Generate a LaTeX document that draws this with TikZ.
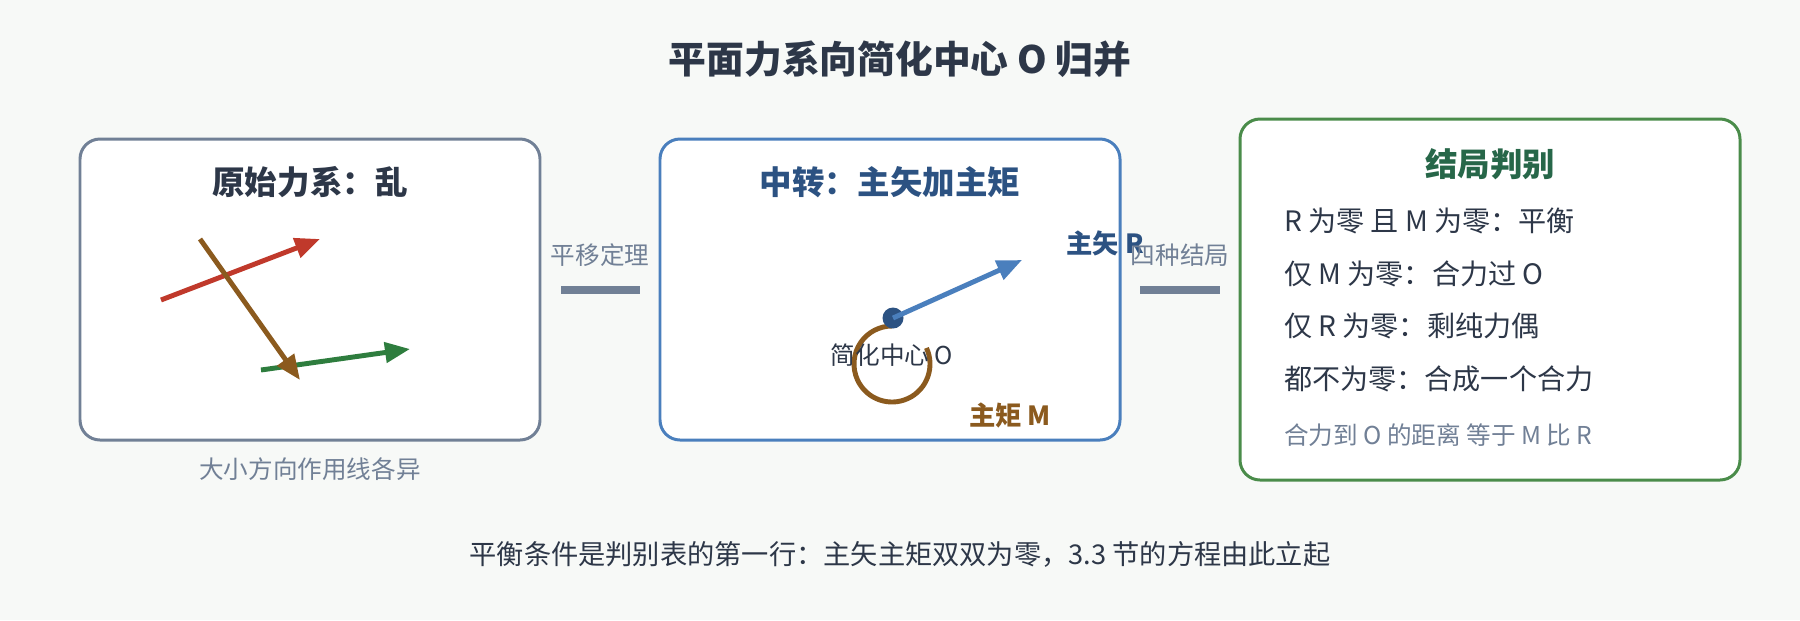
\documentclass[tikz,border=0pt]{standalone}
\usepackage{fontspec}
\setmainfont{Noto Sans CJK SC}
\usetikzlibrary{arrows.meta,positioning}
\definecolor{ink}{HTML}{2D3748}
\definecolor{slate}{HTML}{718096}
\definecolor{bluebd}{HTML}{4A7FBD}
\definecolor{bluedk}{HTML}{2C5282}
\definecolor{greenbd}{HTML}{4A8C4A}
\definecolor{greendk}{HTML}{276749}
\definecolor{redf}{HTML}{C0392B}
\definecolor{brownf}{HTML}{8B5A1E}
\definecolor{greenf}{HTML}{2E7D3E}
\definecolor{bg}{HTML}{F7F9F7}
\tikzset{
  panel/.style={draw=#1, line width=1.7pt, rounded corners=0.4cm, fill=white},
  force/.style={line width=2.8pt, draw=#1, -{Triangle[length=0.5cm,width=0.4cm]}},
  link/.style={line width=4pt, draw=slate},
  ptitle/.style={font=\bfseries\fontsize{18.5}{22}\selectfont},
  body/.style={font=\fontsize{16}{19}\selectfont, text=ink, anchor=west},
  note/.style={font=\fontsize{14}{17}\selectfont, text=slate}
}
\begin{document}
\begin{tikzpicture}[x=0.02cm, y=-0.02cm]

    % Background
    \fill[bg] (0,0) rectangle (1800,620);
    \useasboundingbox (0,0) rectangle (1800,620);

    % Title
    \node[font=\bfseries\fontsize{21.5}{25}\selectfont, text=ink] (title) at (900,59) {平面力系向简化中心 O 归并};

    % Panels
    \draw[panel=slate] (80,139) rectangle (540,440);
    \draw[panel=bluebd] (660,139) rectangle (1120,440);
    \draw[panel=greenbd] (1240,119) rectangle (1740,480);

    % Panel 1: original forces
    \node[ptitle, text=ink] (t1) at (310,182) {原始力系：乱};
    \coordinate (r0) at (161,300); \coordinate (r1) at (320,239);
    \coordinate (b0) at (200,239); \coordinate (b1) at (300,380);
    \coordinate (g0) at (261,370); \coordinate (g1) at (410,349);
    \draw[force=redf] (r0) -- (r1);
    \draw[force=greenf] (g0) -- (g1);
    \draw[force=brownf] (b0) -- (b1);
    \node[note] (c1) at (310,469) {大小方向作用线各异};

    % Link 1
    \node[note] (l1) at (600,255) {平移定理};
    \coordinate (l1a) at (561,290); \coordinate (l1b) at (640,290);
    \draw[link] (l1a) -- (l1b);

    % Panel 2: resultant vector and moment
    \node[ptitle, text=bluedk] (t2) at (890,182) {中转：主矢加主矩};
    \coordinate (mc) at (892,364);
    \draw[brownf, line width=2.8pt] ([shift={(-25:38)}]mc) arc[start angle=-25, end angle=270, radius=38];
    \node[circle, fill=bluedk, inner sep=0pt, minimum size=0.42cm] (O) at (893,318) {};
    \coordinate (Rtip) at (1022,260);
    \draw[force=bluebd] (O.center) -- (Rtip);
    \node[font=\fontsize{14}{17}\selectfont, text=ink] (olab) at (892,355) {简化中心 O};
    \node[font=\bfseries\fontsize{15}{18}\selectfont, text=bluedk] (rlab) at (1105,243) {主矢 R};
    \node[font=\bfseries\fontsize{15}{18}\selectfont, text=brownf] (mlab) at (1010,415) {主矩 M};

    % Link 2
    \node[note] (l2) at (1180,255) {四种结局};
    \coordinate (l2a) at (1140,290); \coordinate (l2b) at (1220,290);
    \draw[link] (l2a) -- (l2b);

    % Panel 3: four outcomes
    \node[ptitle, text=greendk] (t3) at (1490,164) {结局判别};
    \node[body] (o1) at (1278,221) {R 为零 且 M 为零：平衡};
    \node[body] (o2) at (1278,274) {仅 M 为零：合力过 O};
    \node[body] (o3) at (1278,326) {仅 R 为零：剩纯力偶};
    \node[body] (o4) at (1278,379) {都不为零：合成一个合力};
    \node[note, anchor=west] (o5) at (1278,435) {合力到 O 的距离 等于 M 比 R};

    % Footer
    \node[font=\fontsize{15.5}{18}\selectfont, text=ink] (foot) at (900,554) {平衡条件是判别表的第一行：主矢主矩双双为零，3.3 节的方程由此立起};

\end{tikzpicture}
\end{document}
